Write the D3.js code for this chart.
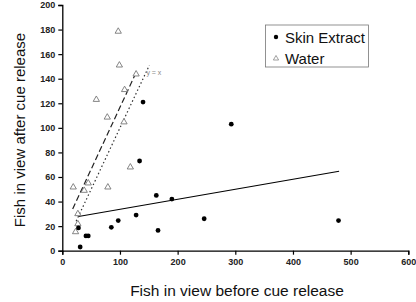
<!DOCTYPE html>
<html><head><meta charset="utf-8">
<script src="https://cdn.jsdelivr.net/npm/d3@7"></script>
<style>body{margin:0;background:#fff;}svg{display:block;font-family:"Liberation Sans",Arial,sans-serif;}</style>
</head><body>
<svg id="c" width="416" height="302"></svg>
<script>
const skinX = [140,134,163,190,166,128,97,85,41,45,28,31,246,293,479];
const skinY = [121,73,45,42,16.5,29,24.5,19,12,12,18.5,3,26,103,24.5];
const waterX = [97,99,59,78,108,107,128,118,79,19,38,45,27,27,23];
const waterY = [178.5,151,123,108.6,131,104.7,143.7,68,51.7,51.7,49,55,30,21.8,15.3];
const skinFitX = [28,480];
const skinFitY = [27.8,64.7];
const waterFitX = [18,129];
const waterFitY = [34,146];
const identityX = [24,151];
const xTicks = [0,100,200,300,400,500,600];
const yTicks = [0,20,40,60,80,100,120,140,160,180,200];
const seriesNames = ["Skin Extract","Water"];

const svg = d3.select("#c");
const x = d3.scaleLinear().domain([0,600]).range([62.3,408.3]);
const y = d3.scaleLinear().domain([0,200]).range([250.7,5]);

const xAxis = svg.append("g").attr("transform","translate(0,250.7)")
  .call(d3.axisBottom(x).tickValues(xTicks).tickSize(4).tickPadding(4));
const yAxis = svg.append("g").attr("transform","translate(62.3,0)")
  .call(d3.axisLeft(y).tickValues(yTicks).tickSize(4).tickPadding(3));
[xAxis,yAxis].forEach(a=>{
  a.select(".domain").attr("stroke","#000").attr("stroke-width",1.3);
  a.selectAll(".tick line").attr("stroke","#000").attr("stroke-width",1.2);
  a.selectAll(".tick text").attr("font-family","Liberation Sans, Arial, sans-serif")
   .attr("font-size",9).attr("font-weight","bold").attr("fill","#222");
});

// lines
const line = d3.line().x(d=>x(d[0])).y(d=>y(d[1]));
svg.append("path").attr("d",line(d3.zip(skinFitX,skinFitY)))
  .attr("stroke","#000").attr("stroke-width",1.1).attr("fill","none");
svg.append("path").attr("d",line(d3.zip(waterFitX,waterFitY)))
  .attr("stroke","#222").attr("stroke-width",1.2).attr("fill","none").attr("stroke-dasharray","6,3");
svg.append("path").attr("d",line(identityX.map(v=>[v,v])))
  .attr("stroke","#333").attr("stroke-width",1.2).attr("fill","none").attr("stroke-dasharray","1.5,2.5");
svg.append("text").attr("x",x(identityX[1])-3).attr("y",y(identityX[1])+10)
  .attr("font-size",7).attr("fill","#888").text("y = x");

// points
const tri = d3.symbol().type(d3.symbolTriangle).size(17);
svg.append("g").selectAll("path").data(d3.zip(waterX,waterY)).join("path")
  .attr("d",tri).attr("transform",d=>`translate(${x(d[0])},${y(d[1])})`)
  .attr("fill","#fff").attr("stroke","#777").attr("stroke-width",0.9);
svg.append("g").selectAll("circle").data(d3.zip(skinX,skinY)).join("circle")
  .attr("cx",d=>x(d[0])).attr("cy",d=>y(d[1])).attr("r",2.4).attr("fill","#000");

// legend
const lg = svg.append("g");
lg.append("rect").attr("x",265.5).attr("y",25).attr("width",103).attr("height",42)
  .attr("fill","#fff").attr("stroke","#777").attr("stroke-width",0.8);
lg.append("circle").attr("cx",276).attr("cy",37).attr("r",2.2).attr("fill","#000");
lg.append("path").attr("d",d3.symbol().type(d3.symbolTriangle).size(12))
  .attr("transform","translate(276,58.5)").attr("fill","#fff").attr("stroke","#888").attr("stroke-width",0.8);
lg.append("text").attr("x",285).attr("y",42.5).attr("font-size",15).attr("fill","#111").text(seriesNames[0]);
lg.append("text").attr("x",285).attr("y",63.5).attr("font-size",15).attr("fill","#111").text(seriesNames[1]);

// titles
svg.append("text").attr("x",237).attr("y",296).attr("text-anchor","middle")
  .attr("font-size",15.5).attr("fill","#111").text("Fish in view before cue release");
svg.append("text").attr("transform","translate(24.5,130) rotate(-90)").attr("text-anchor","middle")
  .attr("font-size",15).attr("fill","#111").text("Fish in view after cue release");
</script>
</body></html>
